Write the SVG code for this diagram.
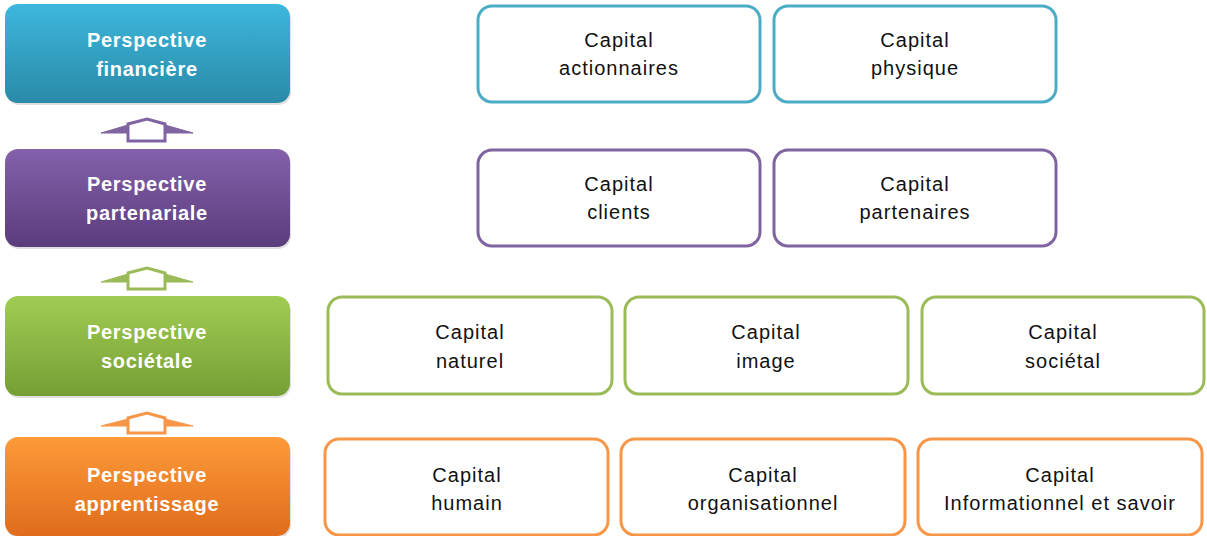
<svg xmlns="http://www.w3.org/2000/svg" width="1207" height="536" viewBox="0 0 1207 536">
<defs>
<linearGradient id="gBlue" x1="0" y1="0" x2="0" y2="1"><stop offset="0" stop-color="#3db7dc"/><stop offset="1" stop-color="#2a8aa8"/></linearGradient>
<linearGradient id="gPurple" x1="0" y1="0" x2="0" y2="1"><stop offset="0" stop-color="#8461ab"/><stop offset="1" stop-color="#5b3c7c"/></linearGradient>
<linearGradient id="gGreen" x1="0" y1="0" x2="0" y2="1"><stop offset="0" stop-color="#a1cc53"/><stop offset="1" stop-color="#759f35"/></linearGradient>
<linearGradient id="gOrange" x1="0" y1="0" x2="0" y2="1"><stop offset="0" stop-color="#fd9a3a"/><stop offset="1" stop-color="#e06c1b"/></linearGradient>
</defs>
<style>
.shadow{fill:#000;opacity:0.12}
.pt{font-family:"Liberation Sans",Arial,sans-serif;font-weight:bold;font-size:20px;letter-spacing:0.7px;fill:#fff;text-anchor:middle}
.ct{font-family:"Liberation Sans",Arial,sans-serif;font-size:20px;letter-spacing:1px;fill:#111;text-anchor:middle}
.box{fill:#fff;stroke-width:3}
.b{stroke:#4bacc6}.p{stroke:#8064a2}.g{stroke:#9bbb59}.o{stroke:#f79646}
.arr{fill:#fff;stroke-width:3;stroke-linejoin:miter}
.wing{stroke-width:1;stroke-linejoin:round}
</style>

<g id="persp-financiere">
<rect class="shadow" x="6" y="6" width="285" height="99" rx="13"/>
<rect x="5" y="4" width="285" height="99" rx="13" fill="url(#gBlue)"/>
<text class="pt" x="147" y="47">Perspective</text>
<text class="pt" x="147" y="76">financière</text>
</g>
<g id="persp-partenariale">
<rect class="shadow" x="6" y="151" width="285" height="98" rx="13"/>
<rect x="5" y="149" width="285" height="98" rx="13" fill="url(#gPurple)"/>
<text class="pt" x="147" y="191">Perspective</text>
<text class="pt" x="147" y="220">partenariale</text>
</g>
<g id="persp-societale">
<rect class="shadow" x="6" y="298" width="285" height="100" rx="13"/>
<rect x="5" y="296" width="285" height="100" rx="13" fill="url(#gGreen)"/>
<text class="pt" x="147" y="339">Perspective</text>
<text class="pt" x="147" y="368">sociétale</text>
</g>
<g id="persp-apprentissage">
<rect class="shadow" x="6" y="439" width="285" height="99" rx="13"/>
<rect x="5" y="437" width="285" height="99" rx="13" fill="url(#gOrange)"/>
<text class="pt" x="147" y="482">Perspective</text>
<text class="pt" x="147" y="511">apprentissage</text>
</g>

<g id="connectors">
<g fill="#8064a2" stroke="#8064a2">
<polygon class="wing" points="101,133 128,125 128,133"/>
<polygon class="wing" points="193,133 165,125 165,133"/>
<polygon class="arr" points="128,141 128,124 147,119 165,124 165,141"/>
</g>
<g fill="#9bbb59" stroke="#9bbb59">
<polygon class="wing" points="101,282 128,274 128,282"/>
<polygon class="wing" points="193,282 165,274 165,282"/>
<polygon class="arr" points="128,289 128,273 147,268 165,273 165,289"/>
</g>
<g fill="#f79646" stroke="#f79646">
<polygon class="wing" points="101,426 128,419 128,426"/>
<polygon class="wing" points="193,426 165,419 165,426"/>
<polygon class="arr" points="128,433 128,418 147,413 165,418 165,433"/>
</g>
</g>

<g id="cap-actionnaires"><rect class="box b" x="478" y="6" width="282" height="96" rx="14"/><text class="ct" x="619" y="47">Capital</text><text class="ct" x="619" y="75">actionnaires</text></g>
<g id="cap-physique"><rect class="box b" x="774" y="6" width="282" height="96" rx="14"/><text class="ct" x="915" y="47">Capital</text><text class="ct" x="915" y="75">physique</text></g>

<g id="cap-clients"><rect class="box p" x="478" y="150" width="282" height="96" rx="14"/><text class="ct" x="619" y="191">Capital</text><text class="ct" x="619" y="219">clients</text></g>
<g id="cap-partenaires"><rect class="box p" x="774" y="150" width="282" height="96" rx="14"/><text class="ct" x="915" y="191">Capital</text><text class="ct" x="915" y="219">partenaires</text></g>

<g id="cap-naturel"><rect class="box g" x="328" y="297" width="284" height="97" rx="14"/><text class="ct" x="470" y="339">Capital</text><text class="ct" x="470" y="368">naturel</text></g>
<g id="cap-image"><rect class="box g" x="625" y="297" width="283" height="97" rx="14"/><text class="ct" x="766" y="339">Capital</text><text class="ct" x="766" y="368">image</text></g>
<g id="cap-societal"><rect class="box g" x="922" y="297" width="282" height="97" rx="14"/><text class="ct" x="1063" y="339">Capital</text><text class="ct" x="1063" y="368">sociétal</text></g>

<g id="cap-humain"><rect class="box o" x="325" y="439" width="283" height="96" rx="14"/><text class="ct" x="467" y="482">Capital</text><text class="ct" x="467" y="510">humain</text></g>
<g id="cap-organisationnel"><rect class="box o" x="621" y="439" width="284" height="96" rx="14"/><text class="ct" x="763" y="482">Capital</text><text class="ct" x="763" y="510">organisationnel</text></g>
<g id="cap-informationnel"><rect class="box o" x="918" y="439" width="284" height="96" rx="14"/><text class="ct" x="1060" y="482">Capital</text><text class="ct" x="1060" y="510">Informationnel et savoir</text></g>
</svg>
